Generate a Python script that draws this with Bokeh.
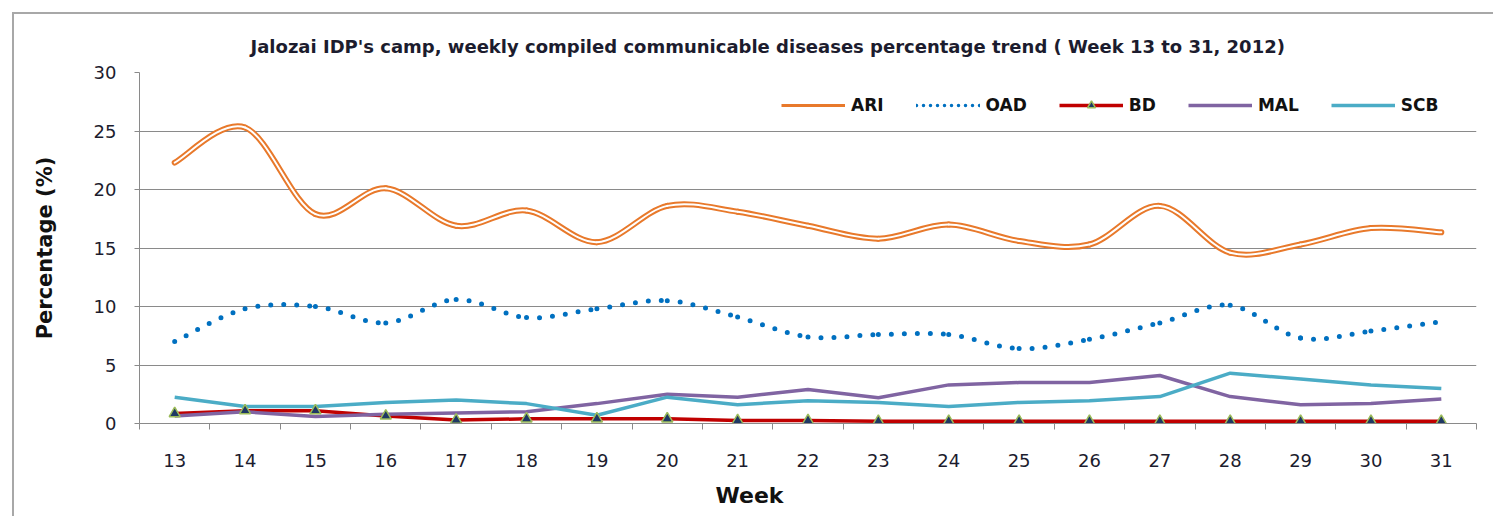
from bokeh.plotting import figure
from bokeh.models import FixedTicker, Title, Legend, LegendItem, Range1d
from bokeh.embed import file_html
from bokeh.resources import INLINE

weeks = list(range(13, 32))
week_labels = [str(w) for w in weeks]
ARI = [22.3, 25.3, 17.9, 20.1, 16.9, 18.2, 15.5, 18.6, 18.1, 16.9, 15.8, 17.0, 15.6, 15.3, 18.6, 14.6, 15.3, 16.7, 16.35]
OAD = [7.0, 9.8, 10.0, 8.6, 10.6, 9.05, 9.8, 10.5, 9.1, 7.4, 7.6, 7.6, 6.4, 7.2, 8.6, 10.1, 7.3, 7.9, 8.7]
BD = [0.85, 1.1, 1.1, 0.65, 0.3, 0.4, 0.4, 0.4, 0.25, 0.25, 0.2, 0.2, 0.2, 0.2, 0.2, 0.2, 0.2, 0.2, 0.2]
MAL = [0.65, 1.0, 0.6, 0.8, 0.9, 1.0, 1.7, 2.5, 2.25, 2.9, 2.2, 3.3, 3.5, 3.5, 4.1, 2.3, 1.6, 1.7, 2.1]
SCB = [2.25, 1.45, 1.45, 1.8, 2.0, 1.7, 0.7, 2.25, 1.6, 1.95, 1.8, 1.45, 1.8, 1.95, 2.3, 4.3, 3.8, 3.3, 3.0]
y_ticks = [0, 5, 10, 15, 20, 25, 30]

TITLE = "Jalozai IDP's camp, weekly compiled communicable diseases percentage trend ( Week 13 to 31, 2012)"
X_TITLE = "Week"
Y_TITLE = "Percentage (%)"
FONT = "DejaVu Sans"
GRAY = "#8a8a8a"
TXT = "#1c1c2e"


def smooth_segments(xs, ys):
    # Excel-style smoothed line: cubic Bezier per segment, control points from neighbours
    n = len(xs)
    seg = dict(x0=[], y0=[], x1=[], y1=[], cx0=[], cy0=[], cx1=[], cy1=[])
    for i in range(n - 1):
        xp, yp = (xs[i - 1], ys[i - 1]) if i > 0 else (xs[i], ys[i])
        xn, yn = (xs[i + 2], ys[i + 2]) if i + 2 < n else (xs[i + 1], ys[i + 1])
        seg["x0"].append(xs[i]); seg["y0"].append(ys[i])
        seg["x1"].append(xs[i + 1]); seg["y1"].append(ys[i + 1])
        seg["cx0"].append(xs[i] + (xs[i + 1] - xp) / 6.0)
        seg["cy0"].append(ys[i] + (ys[i + 1] - yp) / 6.0)
        seg["cx1"].append(xs[i + 1] - (xn - xs[i]) / 6.0)
        seg["cy1"].append(ys[i + 1] - (yn - ys[i]) / 6.0)
    return seg


# figure host sits at (12, 12) with a 2px left/top border, so its content starts at (14, 14)
p = figure(width=1481, height=504, x_range=Range1d(12.5, 31.5), y_range=Range1d(0, 30),
           output_backend="svg", toolbar_location=None,
           min_border_left=125, min_border_right=19, min_border_top=58, min_border_bottom=95)
p.margin = (12, 0, 0, 12)
p.styles = {"border-left": "2px solid #a8a8a8", "border-top": "2px solid #a8a8a8"}
p.outline_line_color = None
p.background_fill_color = "white"
p.border_fill_color = "white"
p.extra_y_ranges = {"legend_only": Range1d(1000, 1001)}

p.title = Title(text=TITLE, align="left", offset=111, text_font=FONT, text_font_size="18px",
                text_font_style="bold", text_color=TXT, standoff=32)

# axes
p.yaxis.ticker = FixedTicker(ticks=y_ticks)
p.yaxis.axis_line_color = GRAY
p.yaxis.major_tick_line_color = GRAY
p.yaxis.major_tick_out = 5
p.yaxis.major_tick_in = 0
p.yaxis.minor_tick_line_color = None
p.yaxis.major_label_text_font = FONT
p.yaxis.major_label_text_font_size = "18px"
p.yaxis.major_label_text_color = TXT
p.yaxis.major_label_standoff = 18
p.yaxis.axis_label = Y_TITLE
p.yaxis.axis_label_text_font = FONT
p.yaxis.axis_label_text_font_size = "21px"
p.yaxis.axis_label_text_font_style = "bold"
p.yaxis.axis_label_text_color = "#111111"
p.yaxis.axis_label_standoff = 34

p.xaxis.ticker = FixedTicker(ticks=weeks, minor_ticks=[w - 0.5 for w in weeks] + [weeks[-1] + 0.5])
p.xaxis.major_label_overrides = {w: s for w, s in zip(weeks, week_labels)}
p.xaxis.axis_line_color = GRAY
p.xaxis.major_tick_line_color = None
p.xaxis.minor_tick_line_color = GRAY
p.xaxis.minor_tick_out = 6
p.xaxis.minor_tick_in = 0
p.xaxis.major_label_text_font = FONT
p.xaxis.major_label_text_font_size = "18px"
p.xaxis.major_label_text_color = TXT
p.xaxis.major_label_standoff = 24

# x-axis title, centred on the chart area (not the plot frame) as in the reference
p.add_layout(Title(text=X_TITLE, align="left", offset=576, text_font=FONT, text_font_size="22px",
                   text_font_style="bold", text_color="#111111", standoff=22), "below")

p.xgrid.grid_line_color = None
p.ygrid.ticker = FixedTicker(ticks=y_ticks)
p.ygrid.grid_line_color = GRAY
p.ygrid.grid_line_width = 1

C_ARI = "#E8792B"
C_OAD = "#0070C0"
C_BD = "#C00000"
C_MAL = "#8064A2"
C_SCB = "#4BACC6"

# ARI: double (compound) orange line
s = smooth_segments(weeks, ARI)
p.bezier(source=s, x0="x0", y0="y0", x1="x1", y1="y1", cx0="cx0", cy0="cy0", cx1="cx1", cy1="cy1",
         line_color=C_ARI, line_width=6, line_cap="round")
p.bezier(source=s, x0="x0", y0="y0", x1="x1", y1="y1", cx0="cx0", cy0="cy0", cx1="cx1", cy1="cy1",
         line_color="white", line_width=2, line_cap="round")

# OAD: round dotted smoothed line
s2 = smooth_segments(weeks, OAD)
p.bezier(source=s2, x0="x0", y0="y0", x1="x1", y1="y1", cx0="cx0", cy0="cy0", cx1="cx1", cy1="cy1",
         line_color=C_OAD, line_width=5, line_dash="0 13", line_cap="round")

# BD, MAL, SCB
r_bd = p.line(weeks, BD, line_color=C_BD, line_width=3.5)
r_mal = p.line(weeks, MAL, line_color=C_MAL, line_width=3.5)
r_scb = p.line(weeks, SCB, line_color=C_SCB, line_width=3.5)
r_bdm = p.scatter(weeks, BD, marker="triangle", size=11, fill_color="#1F3864", line_color="#9BBB59",
                  line_width=1.5)

# legend samples for the smoothed series (plotted on a range outside the view)
r_ari = p.line(weeks, ARI, y_range_name="legend_only", line_color=C_ARI, line_width=3)
r_oad = p.line(weeks, OAD, y_range_name="legend_only", line_color=C_OAD, line_width=3.5,
               line_dash="0 7", line_cap="round")

legend = Legend(items=[
    LegendItem(label="ARI", renderers=[r_ari]),
    LegendItem(label="OAD", renderers=[r_oad]),
    LegendItem(label="BD", renderers=[r_bd, r_bdm]),
    LegendItem(label="MAL", renderers=[r_mal]),
    LegendItem(label="SCB", renderers=[r_scb]),
], orientation="horizontal", location=(642, 308), glyph_width=64, glyph_height=20,
    label_standoff=6, spacing=32, padding=0, margin=0,
    border_line_color=None, background_fill_alpha=0,
    label_text_font=FONT, label_text_font_size="17px", label_text_font_style="bold",
    label_text_color="#111111")
p.add_layout(legend)

open("out.html", "w").write(file_html(p, INLINE))
